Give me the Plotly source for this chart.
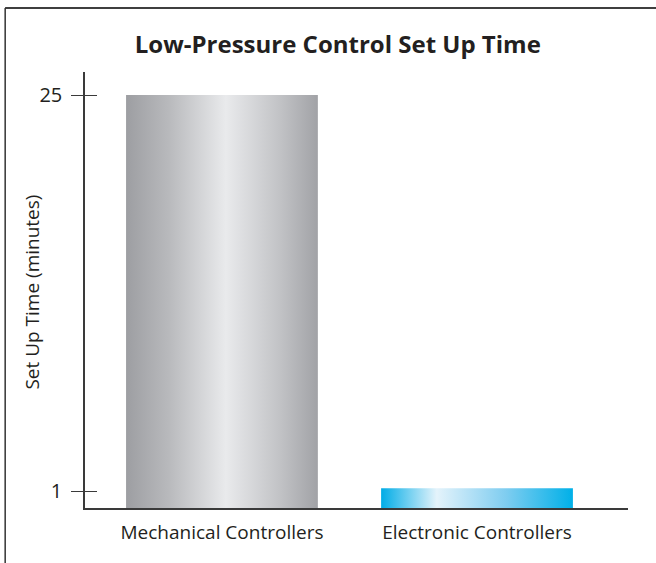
import plotly.graph_objects as go

categories = ["Mechanical Controllers", "Electronic Controllers"]
set_up_minutes = [25, 1.2]
y_tick_values = [1, 25]
y_tick_labels = ["1", "25"]
y_title = "Set Up Time (minutes)"

bar_scales = [
    [[0, "#9d9ea2"], [0.22, "#b8b9bc"], [0.52, "#e9eaec"], [0.8, "#c2c3c6"], [1, "#a1a2a6"]],
    [[0, "#00ace6"], [0.29, "#e4f3fb"], [0.65, "#7fcdf0"], [1, "#00b0e8"]],
]

TEXT = "#231f20"
FONT = "Open Sans"
half_w = 0.376

fig = go.Figure()
for i, (cat, val) in enumerate(zip(categories, set_up_minutes)):
    fig.add_trace(go.Scatter(
        x=[i - half_w, i + half_w, i + half_w, i - half_w, i - half_w],
        y=[0, 0, val, val, 0],
        mode="lines", line=dict(width=0), fill="toself",
        fillgradient=dict(type="horizontal", colorscale=bar_scales[i]),
        name=cat, hoverinfo="skip", showlegend=False,
    ))
fig.add_trace(go.Scatter(x=[None], y=[None], yaxis="y2", showlegend=False))

y_max = 25 * 436 / 413
fig.update_layout(
    width=656, height=563,
    margin=dict(l=85, r=28, t=72, b=55),
    paper_bgcolor="white", plot_bgcolor="white",
    title=dict(text="<b>Low-Pressure Control Set Up Time</b>", x=0.515, xanchor="center",
               y=1 - 45 / 563, yanchor="middle", yref="container",
               font=dict(family=FONT, size=24, color=TEXT)),
    xaxis=dict(range=[-0.537, 1.592], tickvals=[0, 1], ticktext=categories,
               showgrid=False, zeroline=False, showline=True, linecolor="#3a3a3a", linewidth=1.5,
               ticks="", ticklabelstandoff=6, tickfont=dict(family=FONT, size=19, color=TEXT),
               fixedrange=True),
    yaxis=dict(range=[0, y_max], tickvals=y_tick_values, ticktext=y_tick_labels,
               showgrid=False, zeroline=False, showline=True, linecolor="#3a3a3a", linewidth=1.5,
               ticks="outside", ticklen=12, tickwidth=1.2, tickcolor="#3a3a3a",
               ticklabelstandoff=5, tickfont=dict(family=FONT, size=20, color=TEXT),
               fixedrange=True),
    yaxis2=dict(range=[0, y_max], overlaying="y", side="left", anchor="x",
                tickvals=y_tick_values, showticklabels=False, showgrid=False, zeroline=False,
                showline=False, ticks="inside", ticklen=12, tickwidth=1.2, tickcolor="#3a3a3a",
                fixedrange=True),
    annotations=[
        dict(text=y_title, xref="paper", yref="paper", x=-0.0976, y=0.494,
             xanchor="center", yanchor="middle", textangle=-90, showarrow=False,
             font=dict(family=FONT, size=19, color=TEXT)),
    ],
    shapes=[
        dict(type="line", xref="paper", yref="paper", x0=-0.147, x1=-0.147, y0=-0.2, y1=1.147,
             line=dict(color="#333333", width=1.5), layer="above"),
        dict(type="line", xref="paper", yref="paper", x0=-0.147, x1=1.1, y0=1.147, y1=1.147,
             line=dict(color="#333333", width=1.5), layer="above"),
        dict(type="line", xref="paper", yref="paper", x0=-0.147, x1=1.1, y0=1.147, y1=1.147,
             line=dict(color="#333333", width=1.5), layer="above"),
    ],
)

fig.write_html("out.html", config={"displayModeBar": False},
               post_script="document.body.style.margin='0';document.body.style.overflow='hidden';")
